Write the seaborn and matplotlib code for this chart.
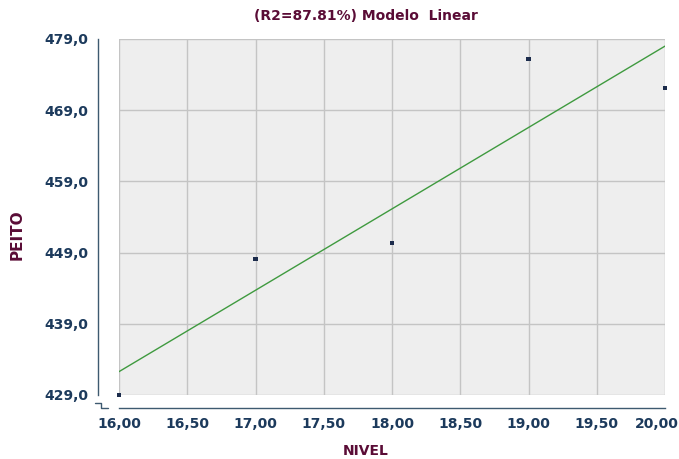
import numpy as np
import pandas as pd
import seaborn as sns
import matplotlib.pyplot as plt
from matplotlib.lines import Line2D
from matplotlib.ticker import FuncFormatter
from matplotlib.transforms import ScaledTranslation

nivel = [16.0, 17.0, 18.0, 19.0, 20.0]
peito = [429.0, 448.1, 450.3, 476.2, 472.1]
x_ticks = [16.0, 16.5, 17.0, 17.5, 18.0, 18.5, 19.0, 19.5, 20.0]
y_ticks = [429.0, 439.0, 449.0, 459.0, 469.0, 479.0]

df = pd.DataFrame({'NIVEL': nivel, 'PEITO': peito})

sns.set_style('white')
plt.rcParams['font.family'] = ['DejaVu Sans']

fig = plt.figure(figsize=(6.79, 4.59), dpi=100)
ax = fig.add_axes([119 / 679, 1 - 395 / 459, 546 / 679, 356 / 459])
ax.set_facecolor('#eeeeee')

sns.regplot(data=df, x='NIVEL', y='PEITO', ci=None, scatter=False, ax=ax,
            line_kws={'color': '#3f9a3f', 'lw': 1.0})
sns.scatterplot(data=df, x='NIVEL', y='PEITO', marker='s', s=9,
                color='#1c2c4c', edgecolor='none', ax=ax, zorder=5, clip_on=False)

ax.set_xlim(16, 20)
ax.set_ylim(429, 479)
ax.set_xticks(x_ticks)
ax.set_yticks(y_ticks)
ax.xaxis.set_major_formatter(FuncFormatter(lambda v, p: f'{v:.2f}'.replace('.', ',')))
ax.yaxis.set_major_formatter(FuncFormatter(lambda v, p: f'{v:.1f}'.replace('.', ',')))
ax.grid(True, color='#c4c4c4', lw=1.0)

axis_col = '#3e5a70'
for s in ['top', 'right']:
    ax.spines[s].set_visible(False)
ax.spines['left'].set_position(('outward', 15))
ax.spines['bottom'].set_position(('outward', 9))
for s in ['left', 'bottom']:
    ax.spines[s].set_color(axis_col)
    ax.spines[s].set_linewidth(1.0)
ax.tick_params(axis='both', direction='out', length=4, width=1, color=axis_col,
               labelsize=10, labelcolor='#1c3a5c', pad=3)
for lab in ax.get_xticklabels() + ax.get_yticklabels():
    lab.set_fontweight('bold')
# last x label nudged left so it stays inside the image
lbl = ax.xaxis.get_major_ticks()[-1].label1
lbl.set_transform(lbl.get_transform() + ScaledTranslation(-8 / 100, 0, fig.dpi_scale_trans))

# small axis-break symbol in the lower left corner
bx = [95, 101, 101, 108]
by = [403, 403, 408, 408]
fig.add_artist(Line2D([v / 679 for v in bx], [1 - v / 459 for v in by],
                      transform=fig.transFigure, color=axis_col, lw=1.0))

ax.set_xlabel('NIVEL', fontsize=10, fontweight='bold', color='#5a0c36', labelpad=9,
              x=(366 - 119) / 546)
ax.set_ylabel('PEITO', fontsize=11, fontweight='bold', color='#5a0c36', labelpad=14,
              y=(395 - 235) / 356)
ax.set_title('(R2=87.81%) Modelo  Linear', fontsize=10, fontweight='bold',
             color='#5a0c36', pad=14, x=(366 - 119) / 546)

fig.savefig('out.png', dpi=100)
